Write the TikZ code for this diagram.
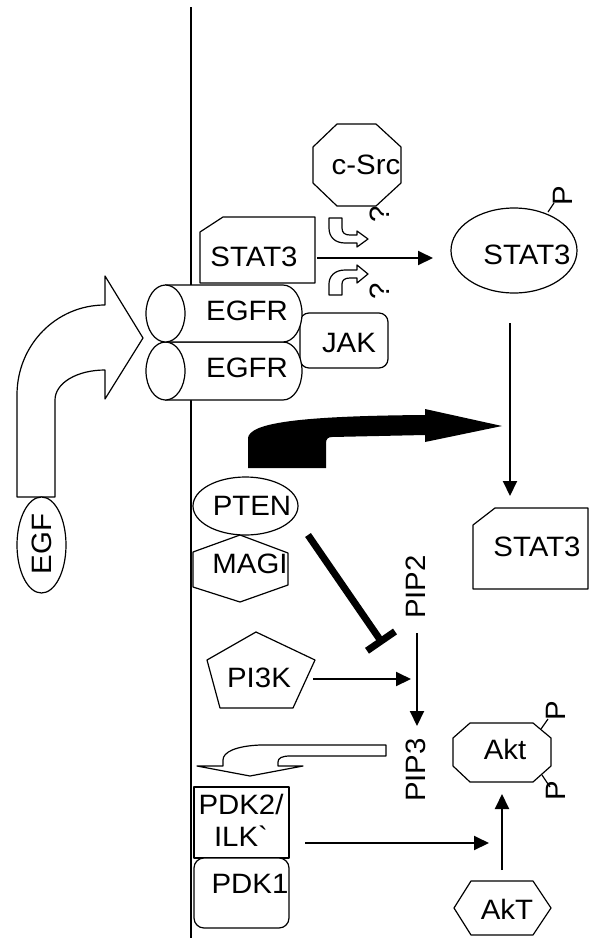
\documentclass[tikz,border=0pt]{standalone}
\usepackage{fontspec}
\setmainfont{Liberation Sans}[FakeStretch=1.05]
\newfontfamily\plainfont{Liberation Sans}[FakeStretch=1.05]
\usetikzlibrary{arrows.meta}
\begin{document}
\begin{tikzpicture}[x=1pt,y=-1pt,
  lbl/.style={inner sep=0pt, font=\fontsize{28}{32}\selectfont},
  shp/.style={draw=black, line width=1.2pt, fill=white, line join=round},
  thin/.style={draw=black, line width=1.2pt},
  arr/.style={draw=black, line width=2pt, -{Triangle[length=15pt,width=14pt]}}]
\useasboundingbox (0,0) rectangle (592,938);
\fill[white] (0,0) rectangle (592,938);

% membrane
\coordinate (memtop) at (191,7);
\coordinate (membot) at (191,938);
\draw[line width=2.6pt] (memtop) -- (membot);

% c-Src
\draw[shp] (337,124) -- (376,124) -- (401,147) -- (401,183) -- (376,206) -- (337,206) -- (313,183) -- (313,147) -- cycle;
\node[lbl] (csrc) at (366,165) {c-Src};

% STAT3 at membrane
\draw[shp] (200,232) -- (223,217) -- (315,217) -- (315,283) -- (200,283) -- cycle;
\node[lbl] (stat3m) at (254,257) {STAT3};

% JAK
\draw[shp, rounded corners=9pt] (300,313) rectangle (388,368);
\node[lbl] (jak) at (349,343) {JAK};

% EGFR cylinders
\draw[shp] (165,342) -- (283,342) .. controls (293.5,342) and (302,355) .. (302,371) .. controls (302,387) and (293.5,400) .. (283,400) -- (165,400);
\draw[shp] (165.5,371) ellipse [x radius=19.5, y radius=29];
\draw[shp] (165,285) -- (283,285) .. controls (293.5,285) and (302,297.8) .. (302,313.5) .. controls (302,329.2) and (293.5,342) .. (283,342) -- (165,342);
\draw[shp] (165.5,313.5) ellipse [x radius=19.5, y radius=28.5];
\node[lbl] (egfr1) at (247,311) {EGFR};
\node[lbl] (egfr2) at (247,368) {EGFR};

% EGF hollow bent arrow
\draw[shp] (17,497) -- (17,395) .. controls (17,345) and (56,305) .. (105,305) -- (105,276) -- (143,338) -- (105,399) -- (105,370) .. controls (77,370) and (55,383) .. (55,400) -- (55,497) -- cycle;

% EGF
\draw[shp] (41.5,545) ellipse [x radius=24.5, y radius=48];
\node[lbl, rotate=90] (egf) at (41.5,544) {EGF};

% small hollow arrows
\draw[shp] (329,218) -- (342,218) -- (342,228) .. controls (342,233) and (345,235) .. (350,235) -- (357,235) -- (357,231) -- (368,239) -- (357,247) -- (357,243) -- (345,243) .. controls (335,243) and (329,237) .. (329,228) -- cycle;
\draw[shp] (329,295) -- (342,295) -- (342,284) .. controls (342,280) and (345,278) .. (350,278) -- (357,278) -- (357,283) -- (368,274) -- (357,265) -- (357,270) -- (345,270) .. controls (335,270) and (329,276) .. (329,284) -- cycle;
\node[lbl, rotate=90] (q1) at (380,214) {?};
\node[lbl, rotate=90] (q2) at (380,291) {?};

% STAT3 phosphorylated
\draw[shp] (514,250.5) ellipse [x radius=63, y radius=42.5];
\node[lbl] (stat3p) at (527,255) {STAT3};
\node[lbl, rotate=90] (p1) at (563,196) {P};
\coordinate (p1a) at (548,212);
\coordinate (p1b) at (554,203);
\draw[thin] (p1a) -- (p1b);

% STAT3 -> STAT3-P
\coordinate (a1s) at (317,258);
\coordinate (a1e) at (433,258);
\draw[arr] (a1s) -- (a1e);

% STAT3-P -> nuclear STAT3
\coordinate (a2s) at (510,323);
\coordinate (a2e) at (510,496);
\draw[arr] (a2s) -- (a2e);

% nuclear STAT3
\draw[shp] (473,525) -- (495,508) -- (588,508) -- (588,589) -- (473,589) -- cycle;
\node[lbl] (stat3n) at (537,547) {STAT3};

% black bent arrow
\fill[black] (248,468) -- (248,438) .. controls (250,424) and (290,416) .. (425,415) -- (425,409) -- (502,426) -- (425,442) -- (425,435) -- (332,437) .. controls (328,437) and (326,439) .. (326,443) -- (326,468) -- cycle;

% MAGI and PTEN
\draw[shp] (240,535) -- (288,553) -- (288,585) -- (240,602) -- (193,587) -- (193,552) -- cycle;
\node[lbl] (magi) at (250,564) {MAGI};
\draw[shp] (245.5,506) ellipse [x radius=52.5, y radius=29];
\node[lbl] (pten) at (252,506) {PTEN};

% inhibition
\coordinate (inhS) at (308,535);
\coordinate (inhE) at (383,644);
\draw[line width=7pt, -{Bar[width=34pt]}] (inhS) -- (inhE);

% PI3K
\draw[shp] (256,632) -- (315,660) -- (293,708) -- (220,708) -- (207,660) -- cycle;
\node[lbl] (pi3k) at (259,678) {PI3K};

% PIP2 / PIP3
\node[lbl, rotate=90] (pip2) at (416,587) {PIP2};
\node[lbl, rotate=90] (pip3) at (416,770) {PIP3};
\coordinate (a3s) at (417,633);
\coordinate (a3e) at (417,726);
\draw[arr] (a3s) -- (a3e);
\coordinate (a4s) at (313,679);
\coordinate (a4e) at (411,679);
\draw[arr] (a4s) -- (a4e);

% hollow arrow PIP3 -> PDK
\draw[shp] (386,745) -- (260,745) .. controls (236,746) and (223,752) .. (223,760) -- (223,766) -- (197,766) -- (250,776) -- (303,766) -- (278,766) -- (278,762) .. controls (278,758) and (282,756) .. (290,756) -- (386,756) -- cycle;

% PDK2/ILK and PDK1
\draw[shp] (194,787) rectangle (289,858);
\node[lbl, align=center] (pdk2) at (241,820) {PDK2/\\ILK{\plainfont\char96}};
\draw[shp, rounded corners=10pt] (194,858) rectangle (289,928);
\node[lbl] (pdk1) at (250,884) {PDK1};
\coordinate (a5s) at (305,843);
\coordinate (a5e) at (489,843);
\draw[arr] (a5s) -- (a5e);

% Akt
\draw[shp] (470,723) -- (533,723) -- (551,738) -- (551,766) -- (533,782) -- (470,782) -- (453,766) -- (453,738) -- cycle;
\node[lbl] (akt) at (505,749) {Akt};
\coordinate (p2a) at (541,729);
\coordinate (p2b) at (548,719);
\draw[thin] (p2a) -- (p2b);
\node[lbl, rotate=90] (p2) at (556,711) {P};
\coordinate (p3a) at (542,775);
\coordinate (p3b) at (550,787);
\draw[thin] (p3a) -- (p3b);
\node[lbl, rotate=90] (p3) at (556,791) {P};

% AkT
\draw[shp] (454,908) -- (471,881) -- (533,881) -- (551,908) -- (533,935) -- (471,935) -- cycle;
\node[lbl] (akt2) at (507,909) {AkT};
\coordinate (a6s) at (502,870);
\coordinate (a6e) at (502,794);
\draw[arr] (a6s) -- (a6e);
\end{tikzpicture}
\end{document}
